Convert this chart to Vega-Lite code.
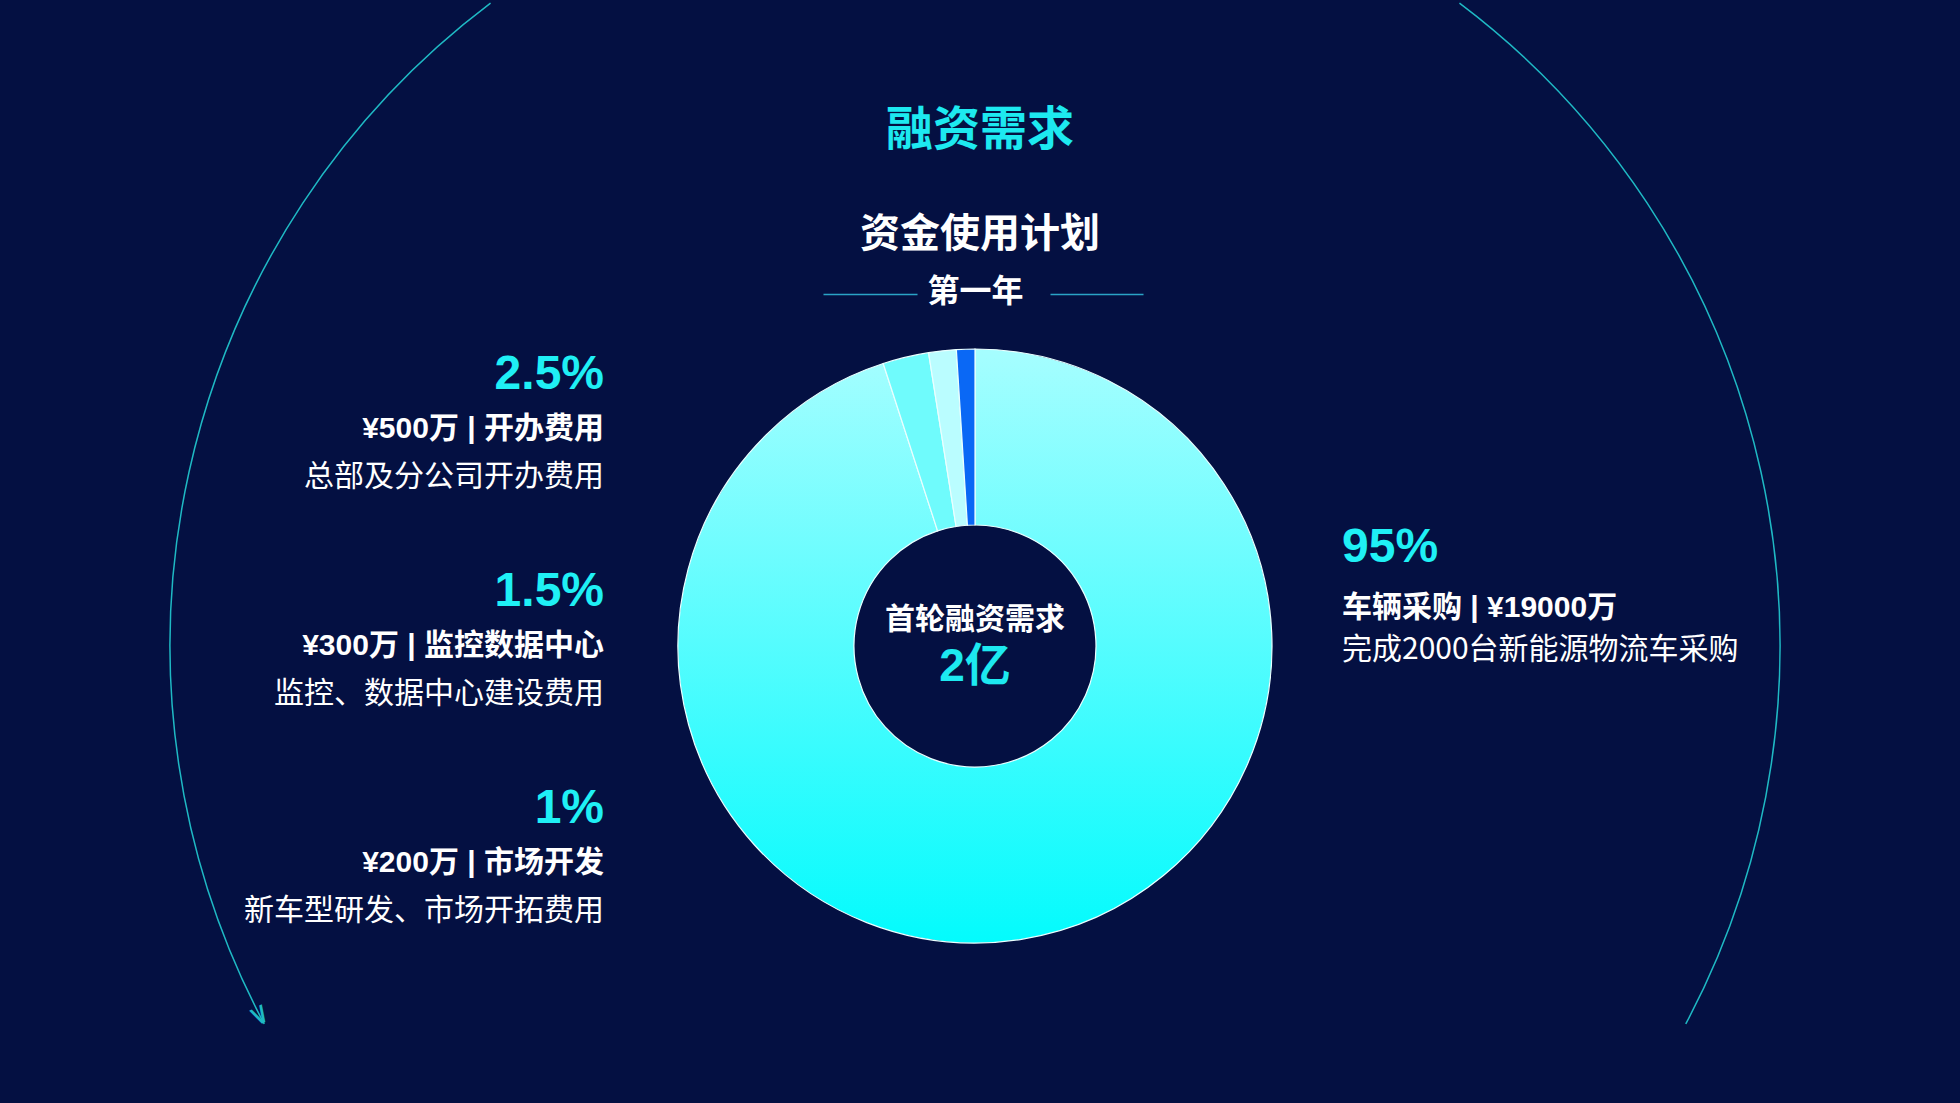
{
  "$schema": "https://vega.github.io/schema/vega-lite/v6.json",
  "background": "#041042",
  "autosize": {"type": "pad"},
  "padding": {"left": 0, "right": 0, "top": 0, "bottom": 70},
  "bounds": "flush",
  "spacing": 0,
  "title": {
    "text": "融资需求",
    "subtitle": "资金使用计划",
    "anchor": "middle",
    "frame": "bounds",
    "offset": -256,
    "font": "Noto Sans CJK SC",
    "fontSize": 47,
    "fontWeight": "bold",
    "color": "#1de9f0",
    "subtitleFont": "Noto Sans CJK SC",
    "subtitleFontSize": 40,
    "subtitleFontWeight": "bold",
    "subtitleColor": "#ffffff",
    "subtitlePadding": 60
  },
  "datasets": {
    "items": [
      {"item": "车辆采购", "value": 95, "amount_wan": 19000, "pct": "95%", "headline": "车辆采购 | ¥19000万", "desc": "完成2000台新能源物流车采购"},
      {"item": "开办费用", "value": 2.5, "amount_wan": 500, "pct": "2.5%", "headline": "¥500万 | 开办费用", "desc": "总部及分公司开办费用"},
      {"item": "监控数据中心", "value": 1.5, "amount_wan": 300, "pct": "1.5%", "headline": "¥300万 | 监控数据中心", "desc": "监控、数据中心建设费用"},
      {"item": "市场开发", "value": 1, "amount_wan": 200, "pct": "1%", "headline": "¥200万 | 市场开发", "desc": "新车型研发、市场开拓费用"}
    ],
    "total": [
      {"label": "首轮融资需求", "amount": "2亿"}
    ]
  },
  "config": {"view": {"stroke": null}},
  "hconcat": [
    {
      "width": 606,
      "height": 650,
      "data": {"name": "items"},
      "transform": [{"filter": "datum.value < 50"}],
      "encoding": {
        "y": {"field": "item", "type": "nominal", "sort": ["开办费用", "监控数据中心", "市场开发"], "axis": null, "scale": {"paddingInner": 0, "paddingOuter": 0}},
        "x": {"value": "width"}
      },
      "layer": [
        {"mark": {"type": "text", "align": "right", "baseline": "middle", "dx": -2, "dy": -54, "font": "Liberation Sans", "fontSize": 48, "fontWeight": "bold", "color": "#1ff0f5"}, "encoding": {"text": {"field": "pct"}}},
        {"mark": {"type": "text", "align": "right", "baseline": "middle", "dx": -2, "dy": 0, "font": "Liberation Sans, Noto Sans CJK SC", "fontSize": 30, "fontWeight": "bold", "color": "#ffffff"}, "encoding": {"text": {"field": "headline"}}},
        {"mark": {"type": "text", "align": "right", "baseline": "middle", "dx": -2, "dy": 48, "font": "Noto Sans CJK SC", "fontSize": 30, "fontWeight": "normal", "color": "#ffffff"}, "encoding": {"text": {"field": "desc"}}}
      ]
    },
    {
      "width": 738,
      "height": 650,
      "layer": [
        {
          "data": {"name": "total"},
          "mark": {"type": "arc", "innerRadius": 805, "outerRadius": 805, "theta": -2.0595, "theta2": -0.6458, "filled": false, "stroke": "#1fb9c4", "strokeWidth": 1.5},
          "encoding": {}
        },
        {
          "data": {"name": "total"},
          "mark": {"type": "arc", "innerRadius": 805, "outerRadius": 805, "theta": 0.6458, "theta2": 2.0595, "filled": false, "stroke": "#1fb9c4", "strokeWidth": 1.5},
          "encoding": {}
        },
        {
          "data": {"name": "total"},
          "mark": {"type": "text", "text": "∨", "theta": -2.047, "radius": 805, "angle": -28, "font": "DejaVu Sans", "fontSize": 30, "color": "#1fb9c4", "align": "center", "baseline": "middle"},
          "encoding": {}
        },
        {
          "data": {"name": "items"},
          "mark": {"type": "arc", "innerRadius": 121, "outerRadius": 297, "stroke": "#eaffff", "strokeWidth": 1.2},
          "encoding": {
            "theta": {"field": "value", "type": "quantitative", "stack": true},
            "order": {"field": "value", "sort": "descending"},
            "color": {
              "condition": {"test": "datum.item === '车辆采购'", "value": {"gradient": "linear", "x1": 0, "y1": 0, "x2": 0, "y2": 1, "stops": [{"offset": 0, "color": "#a6feff"}, {"offset": 1, "color": "#03fbfd"}]}},
              "field": "item",
              "type": "nominal",
              "scale": {"domain": ["车辆采购", "开办费用", "监控数据中心", "市场开发"], "range": ["#7ffcfe", "#6ffbfc", "#bafdff", "#0a68f5"]},
              "legend": null
            }
          }
        },
        {
          "data": {"name": "total"},
          "mark": {"type": "text", "baseline": "middle", "dy": -26, "font": "Noto Sans CJK SC", "fontSize": 30, "fontWeight": "bold", "color": "#ffffff"},
          "encoding": {
            "text": {"field": "label"},
            "x": {
              "datum": 0,
              "type": "quantitative",
              "scale": {"domain": [-1, 1]},
              "axis": {
                "orient": "top",
                "offset": 27,
                "domain": true,
                "domainColor": "#2aa3c6",
                "domainWidth": 1.5,
                "domainDash": [0, 217, 94, 133, 93, 400],
                "ticks": false,
                "labels": false,
                "grid": false,
                "title": "第一年",
                "titleFont": "Noto Sans CJK SC",
                "titleFontSize": 32,
                "titleFontWeight": "bold",
                "titleColor": "#ffffff",
                "titleBaseline": "middle",
                "titlePadding": 0,
                "titleY": -3
              }
            }
          }
        },
        {
          "data": {"name": "total"},
          "mark": {"type": "text", "baseline": "middle", "dy": 21, "font": "Liberation Sans, Noto Sans CJK SC", "fontSize": 46, "fontWeight": "bold", "color": "#1de9f0"},
          "encoding": {"text": {"field": "amount"}}
        }
      ]
    },
    {
      "width": 616,
      "height": 650,
      "data": {"name": "items"},
      "transform": [{"filter": "datum.value >= 50"}],
      "encoding": {
        "y": {"field": "item", "type": "nominal", "axis": null},
        "x": {"value": 0}
      },
      "layer": [
        {"mark": {"type": "text", "align": "left", "baseline": "middle", "dx": -2, "dy": -98, "font": "Liberation Sans", "fontSize": 48, "fontWeight": "bold", "color": "#1ff0f5"}, "encoding": {"text": {"field": "pct"}}},
        {"mark": {"type": "text", "align": "left", "baseline": "middle", "dx": -2, "dy": -38, "font": "Liberation Sans, Noto Sans CJK SC", "fontSize": 30, "fontWeight": "bold", "color": "#ffffff"}, "encoding": {"text": {"field": "headline"}}},
        {"mark": {"type": "text", "align": "left", "baseline": "middle", "dx": -2, "dy": 4, "font": "Noto Sans CJK SC", "fontSize": 30, "fontWeight": "normal", "color": "#ffffff"}, "encoding": {"text": {"field": "desc"}}}
      ]
    }
  ]
}
